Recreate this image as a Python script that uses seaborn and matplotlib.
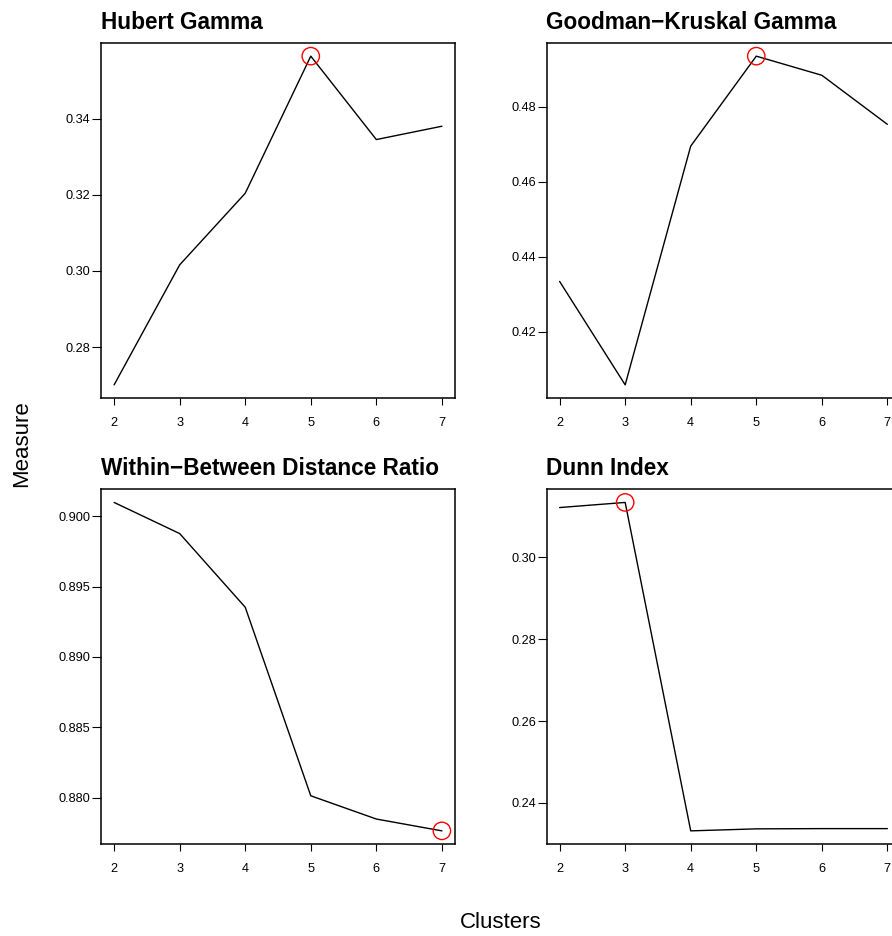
import numpy as np
import pandas as pd
import matplotlib
matplotlib.use("Agg")
import matplotlib.pyplot as plt
import seaborn as sns

# ---- data ----
clusters = [2, 3, 4, 5, 6, 7]
hubert_gamma = [0.2701, 0.3016, 0.3204, 0.3564, 0.3345, 0.3380]
goodman_kruskal = [0.4334, 0.4058, 0.4695, 0.4935, 0.4884, 0.4753]
within_between = [0.90097, 0.89876, 0.89353, 0.88014, 0.87849, 0.87765]
dunn_index = [0.3122, 0.31345, 0.23315, 0.23364, 0.2337, 0.2337]

titles = ["Hubert Gamma", "Goodman\u2212Kruskal Gamma",
          "Within\u2212Between Distance Ratio", "Dunn Index"]
best_rule = ["max", "max", "min", "max"]
yticks = [[0.28, 0.30, 0.32, 0.34],
          [0.42, 0.44, 0.46, 0.48],
          [0.880, 0.885, 0.890, 0.895, 0.900],
          [0.24, 0.26, 0.28, 0.30]]
ytick_fmt = ["{:.2f}", "{:.2f}", "{:.3f}", "{:.2f}"]
xticks = [2, 3, 4, 5, 6, 7]
series = [hubert_gamma, goodman_kruskal, within_between, dunn_index]

sns.set_theme(style="white")
plt.rcParams["font.family"] = ["Liberation Sans", "DejaVu Sans"]
plt.rcParams["text.color"] = "black"
plt.rcParams["axes.labelcolor"] = "black"
plt.rcParams["axes.titlecolor"] = "black"
plt.rcParams["xtick.color"] = "black"
plt.rcParams["ytick.color"] = "black"

W, H = 892, 936
fig = plt.figure(figsize=(W / 100, H / 100), dpi=100)

# axes boxes in pixel coords (left, top, right, bottom)
boxes = [(101, 43, 455, 398), (546.5, 43, 900.5, 398),
         (101, 489.3, 455, 844), (546.5, 489.3, 900.5, 844)]

for i, (vals, title) in enumerate(zip(series, titles)):
    l, t, r, b = boxes[i]
    ax = fig.add_axes([l / W, (H - b) / H, (r - l) / W, (b - t) / H])
    df = pd.DataFrame({"Clusters": clusters, "Measure": vals})
    sns.lineplot(data=df, x="Clusters", y="Measure", ax=ax, color="black",
                 linewidth=1.0)
    idx = int(np.argmax(vals)) if best_rule[i] == "max" else int(np.argmin(vals))
    sns.scatterplot(data=df.iloc[[idx]], x="Clusters", y="Measure", ax=ax,
                    s=12.5 ** 2, facecolors="none", edgecolor="red",
                    linewidth=1.0, zorder=5)
    vmin, vmax = min(vals), max(vals)
    pad = (vmax - vmin) * 0.04
    ax.set_ylim(vmin - pad, vmax + pad)
    ax.set_xlim(1.8, 7.2)
    ax.set_xticks(xticks)
    ax.set_xticklabels([str(x) for x in xticks])
    ax.set_yticks(yticks[i])
    ax.set_yticklabels([ytick_fmt[i].format(v) for v in yticks[i]])
    ax.set_xlabel("")
    ax.set_ylabel("")
    for sp in ax.spines.values():
        sp.set_visible(True)
        sp.set_color("black")
        sp.set_linewidth(1.1)
    ax.tick_params(axis="x", direction="out", length=5, width=0.8, pad=8.5,
                   labelsize=9.2, colors="black", bottom=True)
    ax.tick_params(axis="y", direction="out", length=6.5, width=0.8, pad=1,
                   labelsize=9.2, colors="black", left=True)
    ax.set_title(title, loc="left", fontsize=16.3, fontweight="bold", pad=10,
                 color="black")
    ax.grid(False)

fig.text(501 / W, (H - 923) / H, "Clusters", ha="center", va="center",
         fontsize=16, color="black")
fig.text(22 / W, (H - 443.5) / H, "Measure", ha="center", va="center",
         rotation=90, fontsize=16, color="black")

fig.savefig("out.png", dpi=100, facecolor="white")
